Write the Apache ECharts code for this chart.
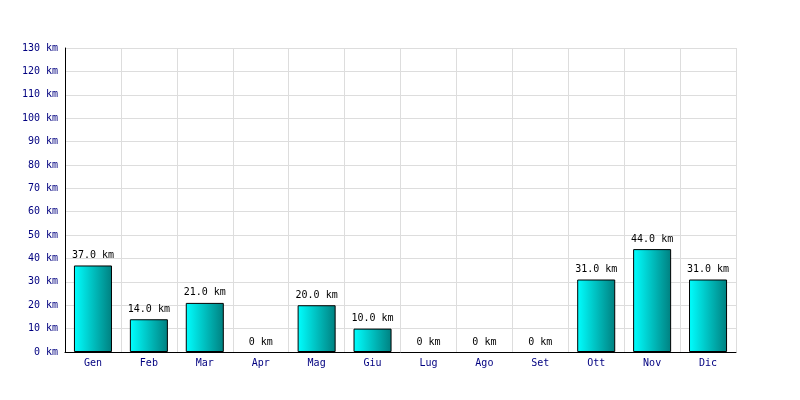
<!DOCTYPE html>
<html>
<head>
<meta charset="utf-8">
<script src="https://cdn.jsdelivr.net/npm/echarts@6/dist/echarts.min.js"></script>
<style>html,body{margin:0;padding:0;background:#fff}#c{width:800px;height:400px}</style>
</head>
<body>
<div id="c"></div>
<script>
var categories = ["Gen","Feb","Mar","Apr","Mag","Giu","Lug","Ago","Set","Ott","Nov","Dic"];
var values = [37, 14, 21, 0, 20, 10, 0, 0, 0, 31, 44, 31];
var yMin = 0, yMax = 130, yStep = 10;

var chart = echarts.init(document.getElementById('c'), null, {renderer: 'canvas'});
var font = 'DejaVu Sans Mono';
var seriesData = values.map(function (v) {
  return v === 0 ? {value: v, itemStyle: {borderWidth: 0, opacity: 0}} : {value: v};
});
chart.setOption({
  animation: false,
  backgroundColor: '#ffffff',
  grid: {left: 65, right: 64, top: 48, bottom: 48, containLabel: false},
  xAxis: {
    type: 'category',
    data: categories,
    axisLine: {show: true, lineStyle: {color: '#000', width: 1}},
    axisTick: {show: false},
    axisLabel: {color: '#000080', fontFamily: font, fontSize: 10, margin: 6},
    splitLine: {show: true, interval: 0, lineStyle: {color: '#dddddd', width: 1}}
  },
  yAxis: {
    type: 'value',
    min: yMin, max: yMax, interval: yStep,
    axisLine: {show: true, lineStyle: {color: '#000', width: 1}},
    axisTick: {show: false},
    axisLabel: {color: '#000080', fontFamily: font, fontSize: 10, margin: 7,
      formatter: function (v) { return v + ' km'; }},
    splitLine: {show: true, lineStyle: {color: '#dddddd', width: 1}}
  },
  series: [{
    type: 'bar',
    data: seriesData,
    barWidth: '68%',
    itemStyle: {
      color: new echarts.graphic.LinearGradient(0, 0, 1, 0, [
        {offset: 0, color: '#00ffff'},
        {offset: 1, color: '#008080'}
      ]),
      borderColor: '#000', borderWidth: 1
    },
    label: {
      show: true, position: 'top', distance: 5,
      color: '#000', fontFamily: font, fontSize: 10, opacity: 1,
      formatter: function (p) { return p.value === 0 ? '0 km' : p.value.toFixed(1) + ' km'; }
    }
  }]
});
</script>
</body>
</html>
